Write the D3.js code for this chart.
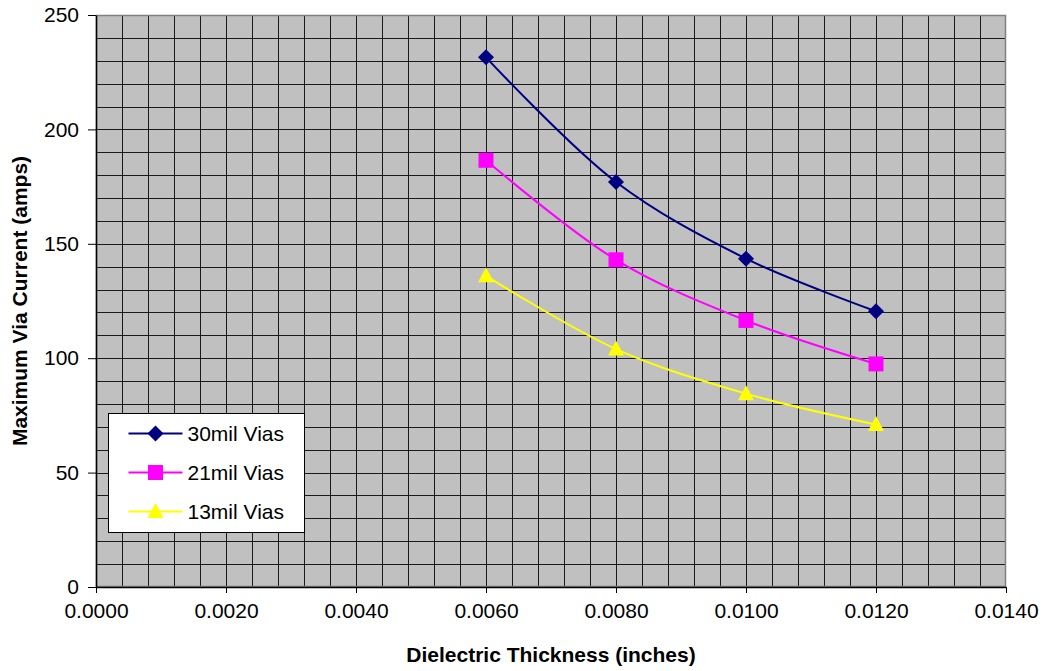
<!DOCTYPE html>
<html>
<head>
<meta charset="utf-8">
<script src="https://cdn.jsdelivr.net/npm/d3@7"></script>
<style>
  html, body { margin: 0; padding: 0; background: #fff; }
  svg { display: block; font-family: "Liberation Sans", Arial, sans-serif; }
</style>
</head>
<body>
<svg id="chart" width="1044" height="671"></svg>
<script>
// Dielectric thickness (inches) for each measurement
const thickness = [0.006, 0.008, 0.010, 0.012];

// Maximum via current (amps) per via size
const current30mil = [231.5, 177, 143.5, 120.5];
const current21mil = [186.5, 143, 116.5, 97.5];
const current13mil = [136, 104, 84.5, 71];

const seriesNames = ["30mil Vias", "21mil Vias", "13mil Vias"];
const seriesColors = ["#000080", "#ff00ff", "#ffff00"];
const seriesMarkers = ["diamond", "square", "triangle"];

const xTicks = [0, 0.002, 0.004, 0.006, 0.008, 0.010, 0.012, 0.014];
const yTicks = [0, 50, 100, 150, 200, 250];

const series = [current30mil, current21mil, current13mil].map((vals, i) => ({
  name: seriesNames[i],
  color: seriesColors[i],
  marker: seriesMarkers[i],
  points: thickness.map((t, j) => ({ x: t, y: vals[j] }))
}));

const FONT = "'Liberation Sans', Arial, sans-serif";
const svg = d3.select("#chart");
const plot = { left: 96, top: 15, right: 1006, bottom: 587 };

const x = d3.scaleLinear().domain([0, 0.014]).range([plot.left, plot.right]);
const y = d3.scaleLinear().domain([0, 250]).range([plot.bottom, plot.top]);

// Plot background
svg.append("rect")
  .attr("x", plot.left).attr("y", plot.top)
  .attr("width", plot.right - plot.left).attr("height", plot.bottom - plot.top)
  .attr("fill", "#c0c0c0");

// Grid: vertical every 0.0004, horizontal every 10 amps
const grid = svg.append("g").attr("stroke", "#1a1a1a").attr("stroke-width", 1);
d3.range(1, 35).map(i => i * 0.0004).forEach(v => {
  const px = Math.round(x(v)) + 0.5;
  grid.append("line").attr("x1", px).attr("x2", px)
    .attr("y1", plot.top).attr("y2", plot.bottom);
});
d3.range(1, 25).map(i => i * 10).forEach(v => {
  const py = Math.round(y(v)) + 0.5;
  grid.append("line").attr("x1", plot.left).attr("x2", plot.right)
    .attr("y1", py).attr("y2", py);
});

// Plot border (top/right in gray)
svg.append("rect")
  .attr("x", plot.left + 0.5).attr("y", plot.top + 0.5)
  .attr("width", plot.right - plot.left - 1).attr("height", plot.bottom - plot.top - 1)
  .attr("fill", "none").attr("stroke", "#808080").attr("stroke-width", 1.5);

// Axes
const xAxis = d3.axisBottom(x).tickValues(xTicks).tickFormat(d3.format(".4f"))
  .tickSizeInner(6).tickSizeOuter(0).tickPadding(10);
const yAxis = d3.axisLeft(y).tickValues(yTicks).tickFormat(d3.format("d"))
  .tickSizeInner(8).tickSizeOuter(0).tickPadding(9);

const gx = svg.append("g").attr("transform", `translate(0,${plot.bottom})`).call(xAxis);
const gy = svg.append("g").attr("transform", `translate(${plot.left},0)`).call(yAxis);
[gx, gy].forEach(g => {
  g.select(".domain").attr("stroke", "#000").attr("stroke-width", 1.5);
  g.selectAll(".tick line").attr("stroke", "#000");
  g.selectAll(".tick text").attr("fill", "#000")
    .style("font-size", "21px").style("font-family", FONT);
});

// Axis titles
svg.append("text")
  .attr("x", 551).attr("y", 662)
  .attr("text-anchor", "middle")
  .style("font-size", "21px").style("font-weight", "bold")
  .text("Dielectric Thickness (inches)");
svg.append("text")
  .attr("transform", `translate(27,${(plot.top + plot.bottom) / 2}) rotate(-90)`)
  .attr("text-anchor", "middle")
  .style("font-size", "21px").style("font-weight", "bold")
  .text("Maximum Via Current (amps)");

// Marker shapes
function markerPath(type) {
  if (type === "diamond") return "M0,-8L8,0L0,8L-8,0Z";
  if (type === "square") return "M-7.5,-7.5H7.5V7.5H-7.5Z";
  return "M0,-8.5L8,6.5H-8Z";
}

// Smoothed series lines and markers
const line = d3.line()
  .x(d => x(d.x)).y(d => y(d.y))
  .curve(d3.curveCatmullRom.alpha(0.5));

series.forEach(s => {
  svg.append("path")
    .datum(s.points)
    .attr("d", line)
    .attr("fill", "none")
    .attr("stroke", s.color)
    .attr("stroke-width", 2);
});
series.forEach(s => {
  svg.append("g").selectAll("path")
    .data(s.points)
    .join("path")
    .attr("transform", d => `translate(${x(d.x)},${y(d.y)})`)
    .attr("d", markerPath(s.marker))
    .attr("fill", s.color);
});

// Legend
const legend = svg.append("g").attr("transform", "translate(108.5,413.5)");
legend.append("rect")
  .attr("width", 196).attr("height", 119)
  .attr("fill", "#fff").attr("stroke", "#000").attr("stroke-width", 1);
series.forEach((s, i) => {
  const ly = 20 + i * 39;
  legend.append("line")
    .attr("x1", 20).attr("x2", 74).attr("y1", ly).attr("y2", ly)
    .attr("stroke", s.color).attr("stroke-width", 2);
  legend.append("path")
    .attr("transform", `translate(47,${ly})`)
    .attr("d", markerPath(s.marker))
    .attr("fill", s.color);
  legend.append("text")
    .attr("x", 79).attr("y", ly + 7)
    .style("font-size", "21px")
    .text(s.name);
});
</script>
</body>
</html>
